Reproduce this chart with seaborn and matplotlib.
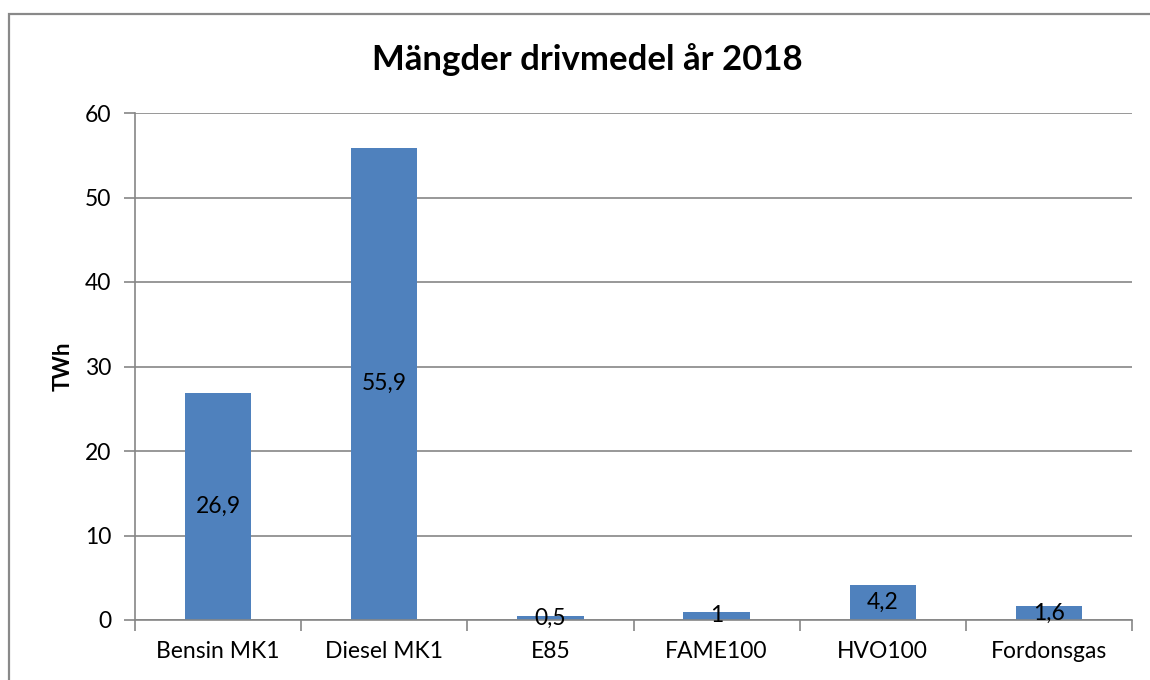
import matplotlib
matplotlib.use("Agg")
import matplotlib.pyplot as plt
import matplotlib.patches as patches
from matplotlib.ticker import FixedLocator
import seaborn as sns

# data
categories = ["Bensin MK1", "Diesel MK1", "E85", "FAME100", "HVO100", "Fordonsgas"]
values = [26.9, 55.9, 0.5, 1.0, 4.2, 1.6]
value_labels = ["26,9", "55,9", "0,5", "1", "4,2", "1,6"]
y_ticks = [0, 10, 20, 30, 40, 50, 60]

BAR_COLOR = "#4F81BD"
GRID_COLOR = "#868686"

sns.set_theme(style="white")
plt.rcParams["font.family"] = ["Lato", "DejaVu Sans"]

fig = plt.figure(figsize=(11.5, 6.8), dpi=100)
ax = fig.add_axes([135 / 1150, 1 - 620 / 680, (1132 - 135) / 1150, (620 - 113) / 680])

sns.barplot(x=categories, y=values, color=BAR_COLOR, width=0.4, saturation=1,
            edgecolor="none", ax=ax)

ax.bar_label(ax.containers[0], labels=value_labels, label_type="center",
             fontsize=16.5, color="black")

ax.set_ylim(0, 60)
ax.set_xlim(-0.5, len(categories) - 0.5)
ax.set_yticks(y_ticks)
ax.set_yticklabels([str(t) for t in y_ticks])

ax.yaxis.grid(True, color=GRID_COLOR, linewidth=1.2)
ax.set_axisbelow(True)

for side in ["top", "right"]:
    ax.spines[side].set_visible(False)
for side in ["left", "bottom"]:
    ax.spines[side].set_color(GRID_COLOR)
    ax.spines[side].set_linewidth(1.2)

ax.tick_params(axis="y", which="major", direction="out", length=8, width=1.2,
               color=GRID_COLOR, labelsize=16.5, labelcolor="black", pad=9, left=True)
ax.tick_params(axis="x", which="major", length=0, labelsize=16.5, labelcolor="black", pad=15)
ax.xaxis.set_minor_locator(FixedLocator([i - 0.5 for i in range(len(categories) + 1)]))
ax.tick_params(axis="x", which="minor", direction="out", length=8, width=1.2,
               color=GRID_COLOR, bottom=True)

ax.set_xlabel("")
ax.set_ylabel("TWh", fontsize=16, fontweight="bold", color="black", labelpad=8)

fig.text(587 / 1150, 1 - 60 / 680, "Mängder drivmedel år 2018", ha="center", va="center",
         fontsize=25, fontweight="bold", color="black")

# chart area border (image is cropped at right and bottom)
border = patches.Rectangle((9 / 1150, -0.05), 1.1, 1 - 14 / 680 + 0.05,
                           transform=fig.transFigure, fill=False,
                           edgecolor="#898989", linewidth=1.6, clip_on=False)
fig.patches.append(border)

fig.savefig("out.png", dpi=100)
